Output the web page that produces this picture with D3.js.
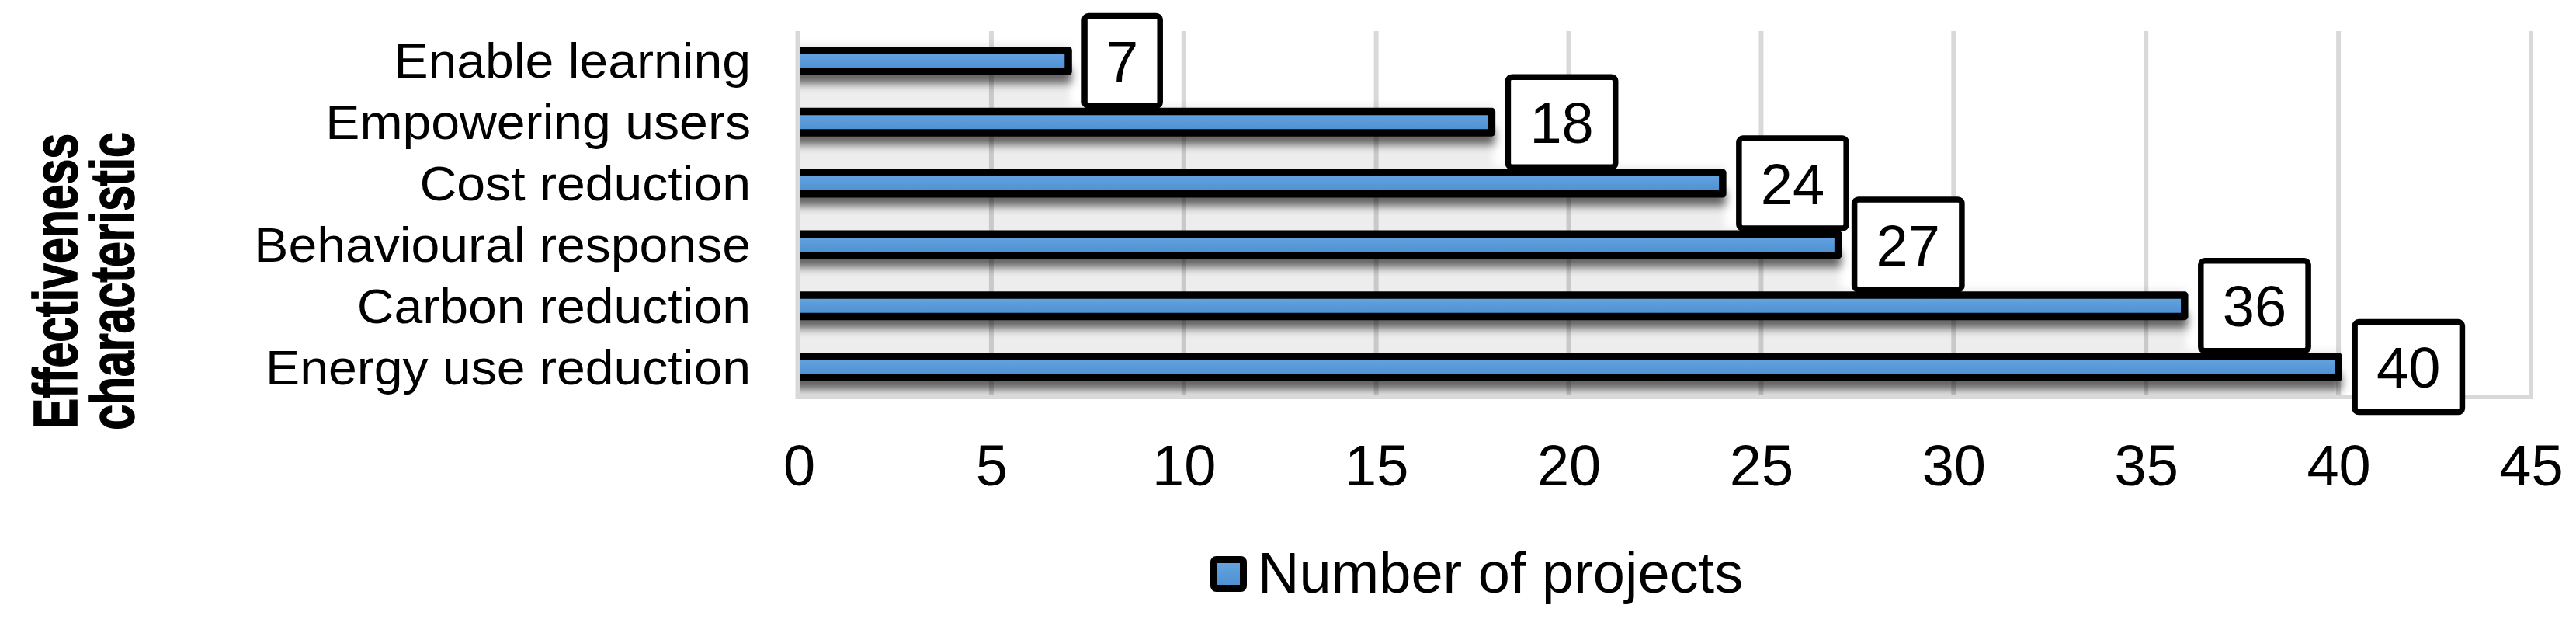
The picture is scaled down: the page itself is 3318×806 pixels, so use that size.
<!DOCTYPE html>
<html>
<head>
<meta charset="utf-8">
<script src="https://cdn.jsdelivr.net/npm/d3@7"></script>
<style>
  html, body { margin: 0; padding: 0; background: #ffffff; }
  svg { display: block; }
  text { font-family: "Liberation Sans", Arial, Helvetica, sans-serif; fill: #000; }
</style>
</head>
<body>
<script>
// ---------------- data ----------------
const categories = ["Enable learning", "Empowering users", "Cost reduction",
                    "Behavioural response", "Carbon reduction", "Energy use reduction"];
const values = [7, 18, 24, 27, 36, 40];
const xTicks = [0, 5, 10, 15, 20, 25, 30, 35, 40, 45];
const seriesName = "Number of projects";
const axisTitleLines = ["Effectiveness", "characteristic"];

// ---------------- layout ----------------
const W = 3318, H = 806;
const plot = { left: 1029, right: 3260, top: 39, bottom: 512 };

const svg = d3.select("body").append("svg").attr("width", W).attr("height", H);
const defs = svg.append("defs");

const grad = defs.append("linearGradient").attr("id", "barGrad")
  .attr("x1", 0).attr("y1", 0).attr("x2", 0).attr("y2", 1);
grad.append("stop").attr("offset", "0%").attr("stop-color", "#68a6e1");
grad.append("stop").attr("offset", "100%").attr("stop-color", "#4a8dd0");

const blurDark = defs.append("filter").attr("id", "blurDark")
  .attr("x", "-20%").attr("y", "-100%").attr("width", "140%").attr("height", "300%");
blurDark.append("feGaussianBlur").attr("stdDeviation", 6);
const blurLight = defs.append("filter").attr("id", "blurLight")
  .attr("x", "-20%").attr("y", "-100%").attr("width", "140%").attr("height", "300%");
blurLight.append("feGaussianBlur").attr("stdDeviation", 5);

defs.append("clipPath").attr("id", "plotClip").append("rect")
  .attr("x", plot.left + 2).attr("y", plot.top + 1)
  .attr("width", plot.right - plot.left - 4).attr("height", plot.bottom - plot.top - 4);

const x = d3.scaleLinear().domain([0, 45]).range([plot.left, plot.right]);
const y = d3.scaleBand().domain(categories).range([plot.top, plot.bottom]).padding(0);

const data = categories.map((c, i) => ({ cat: c, v: values[i] }));

// gridlines
svg.append("g").selectAll("line").data(xTicks.filter(t => t > 0 && t < 45)).join("line")
  .attr("x1", d => x(d)).attr("x2", d => x(d))
  .attr("y1", plot.top + 1).attr("y2", plot.bottom - 3)
  .attr("stroke", "#d9d9d9").attr("stroke-width", 6);

// plot border (left, right, bottom)
svg.append("path")
  .attr("d", `M${x(0) - 1.5},${plot.top + 1} V${plot.bottom - 1} H${x(45)} V${plot.top + 1}`)
  .attr("fill", "none").attr("stroke", "#d9d9d9").attr("stroke-width", 6);

const inner = svg.append("g").attr("clip-path", "url(#plotClip)");

// light shadow zone
inner.append("g").attr("filter", "url(#blurLight)")
  .selectAll("rect").data(data).join("rect")
  .attr("x", x(0) - 20)
  .attr("y", d => y(d.cat) + y.bandwidth() / 2 - 22)
  .attr("width", d => x(d.v) - x(0) + 22)
  .attr("height", y.bandwidth())
  .attr("fill", "#000").attr("opacity", 0.07);

// dark shadow under bars
inner.append("g").attr("filter", "url(#blurDark)")
  .selectAll("rect").data(data).join("rect")
  .attr("x", x(0) - 20)
  .attr("y", d => y(d.cat) + y.bandwidth() / 2 + 9)
  .attr("width", d => x(d.v) - x(0) + 24)
  .attr("height", 20)
  .attr("fill", "#000").attr("opacity", 0.6);

// bars
const barH = 27.5;
inner.append("g").selectAll("rect").data(data).join("rect")
  .attr("x", x(0) - 12)
  .attr("y", d => y(d.cat) + y.bandwidth() / 2 - barH / 2)
  .attr("width", d => x(d.v) - x(0) + 12)
  .attr("height", barH)
  .attr("fill", "url(#barGrad)")
  .attr("stroke", "#000").attr("stroke-width", 9.5)
  .attr("stroke-linejoin", "round");

// x axis tick labels
const xAxis = svg.append("g").attr("transform", `translate(0,572)`)
  .call(d3.axisBottom(x).tickValues(xTicks).tickSize(0).tickPadding(0).tickFormat(d3.format("d")));
xAxis.select(".domain").remove();
xAxis.selectAll("text").attr("font-size", 74).attr("dy", "0.71em")
  .style("font-family", '"Liberation Sans", Arial, sans-serif').attr("fill", "#000");

// y axis category labels
const yAxis = svg.append("g").attr("transform", `translate(967,0)`)
  .call(d3.axisLeft(y).tickSize(0).tickPadding(0));
yAxis.select(".domain").remove();
yAxis.selectAll("text").attr("font-size", 63).attr("dy", "0.35em")
  .attr("transform", "scale(1.05,1)")
  .style("font-family", '"Liberation Sans", Arial, sans-serif').attr("fill", "#000");

// data labels
const labels = svg.append("g").selectAll("g").data(data).join("g");
labels.each(function(d) {
  const g = d3.select(this);
  const cy = y(d.cat) + y.bandwidth() / 2;
  const t = g.append("text").text(d.v).attr("font-size", 74).attr("text-anchor", "middle");
  const tw = t.node().getComputedTextLength();
  const bw = tw + 56, bh = 116;
  const bx = x(d.v) + 21;
  g.insert("rect", "text")
    .attr("x", bx).attr("y", cy - bh / 2).attr("width", bw).attr("height", bh)
    .attr("rx", 5).attr("fill", "#fff").attr("stroke", "#000").attr("stroke-width", 7.5);
  t.attr("x", bx + bw / 2).attr("y", cy).attr("dy", "0.36em");
});

// axis title (rotated, two lines)
const titleX = [99, 172];
axisTitleLines.forEach((line, i) => {
  svg.append("text")
    .attr("transform", `translate(${titleX[i]},362) scale(1.35,1) rotate(-90)`)
    .attr("text-anchor", "middle")
    .attr("font-size", 59).attr("font-weight", "bold")
    .attr("stroke", "#000").attr("stroke-width", 1.2)
    .text(line);
});

// legend
const lg = svg.append("g");
lg.append("rect").attr("x", 1563.5).attr("y", 720.5).attr("width", 38).attr("height", 37)
  .attr("rx", 3).attr("fill", "url(#barGrad)").attr("stroke", "#000").attr("stroke-width", 9);
lg.append("text").attr("x", 1620).attr("y", 763).attr("font-size", 74).text(seriesName);
</script>
</body>
</html>
